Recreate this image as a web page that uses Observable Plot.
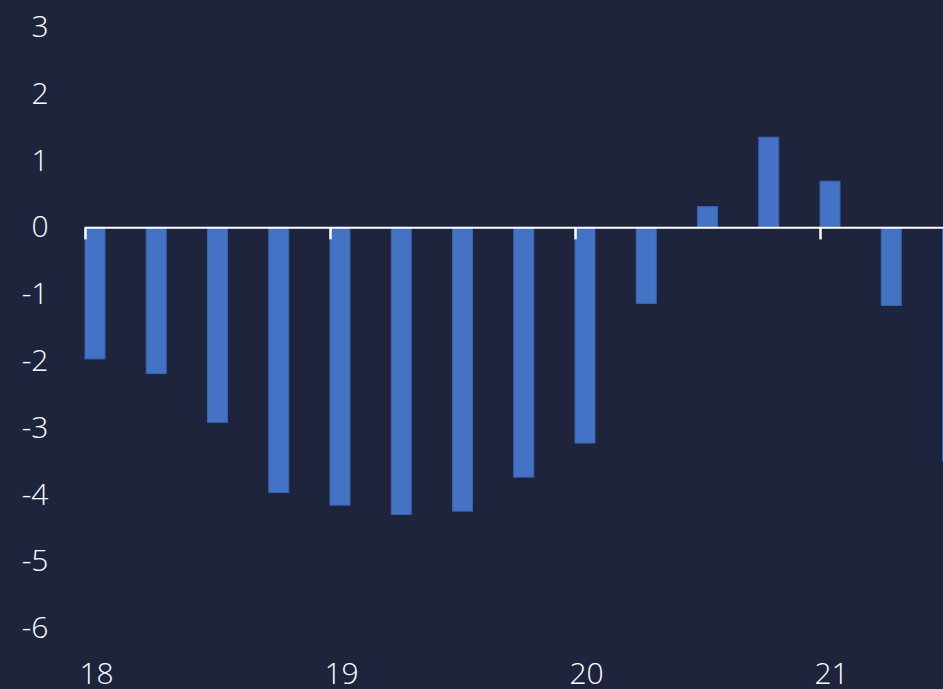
<!DOCTYPE html>
<html>
<head>
<meta charset="utf-8">
<script src="https://cdn.jsdelivr.net/npm/d3@7"></script>
<script src="https://cdn.jsdelivr.net/npm/@observablehq/plot@0.6"></script>
<style>
  html, body { margin: 0; padding: 0; background: #1f243d; }
  #chart { width: 943px; height: 689px; overflow: hidden; }
</style>
</head>
<body>
<div id="chart"></div>
<script>
// Quarterly periods (year + quarter fraction) and values
const periods = [18.00, 18.25, 18.50, 18.75, 19.00, 19.25, 19.50, 19.75, 20.00, 20.25, 20.50, 20.75, 21.00, 21.25, 21.50];
const values  = [-1.97, -2.19, -2.92, -3.97, -4.16, -4.30, -4.25, -3.74, -3.23, -1.14, 0.31, 1.35, 0.69, -1.17, -3.50];
const yearTicks = [18, 19, 20, 21];
const yTicks = [3, 2, 1, 0, -1, -2, -3, -4, -5, -6];

const data = periods.map((t, i) => ({t, v: values[i]}));

const barWidthYears = 20 / 245; // bar width as fraction of a year
const FONT = "'Open Sans', 'Segoe UI', sans-serif";

const chart = Plot.plot({
  width: 943,
  height: 689,
  marginLeft: 85,
  marginRight: 0,
  marginTop: 27,
  marginBottom: 61,
  style: {background: "#1f243d", color: "#ffffff", fontFamily: FONT, fontSize: "30px", fontWeight: 300},
  x: {domain: [18, 21.502], axis: null},
  y: {domain: [-6, 3], axis: null},
  marks: [
    Plot.rect(data, {x1: "t", x2: d => d.t + barWidthYears, y1: 0, y2: "v", fill: "#4472c4", stroke: "#3b63ad", strokeWidth: 1}),
    Plot.ruleY([0], {stroke: "#ffffff", strokeWidth: 2}),
    Plot.ruleX(yearTicks, {x: d => d, y1: 0, y2: -0.18, stroke: "#ffffff", strokeWidth: 2.5}),
    Plot.axisY(yTicks, {anchor: "left", tickSize: 0, tickPadding: 37, label: null, fill: "#ffffff", fontSize: 30, fontWeight: 300, tickFormat: d => String(d)}),
    Plot.axisX(yearTicks, {anchor: "bottom", tickSize: 0, tickPadding: 34, dx: 11, label: null, fill: "#ffffff", fontSize: 30, fontWeight: 300, tickFormat: d => String(d)})
  ]
});
document.getElementById("chart").appendChild(chart);
</script>
</body>
</html>
